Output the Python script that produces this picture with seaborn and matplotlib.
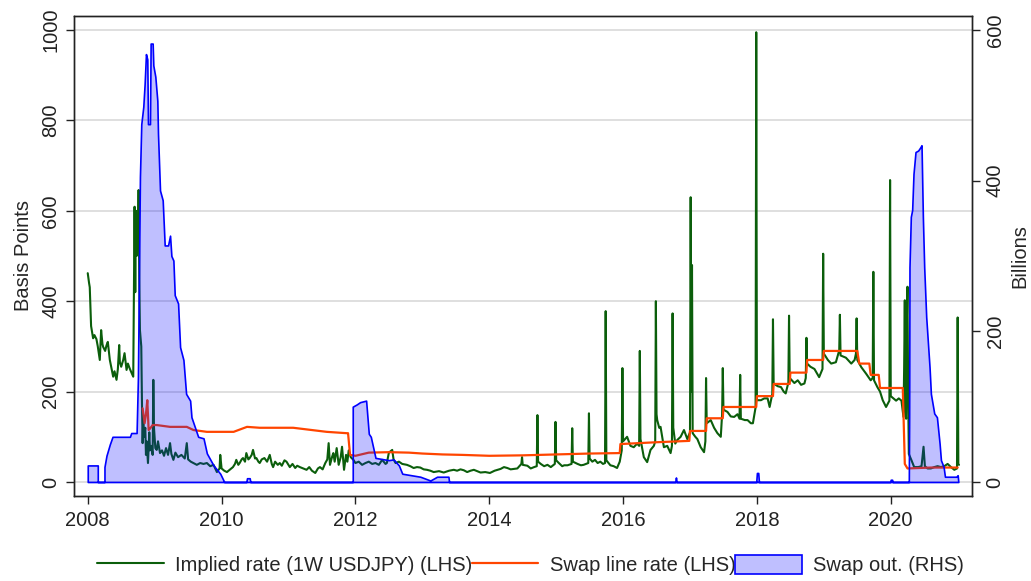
import matplotlib
matplotlib.use("Agg")
import matplotlib.pyplot as plt
import seaborn as sns

# ----------------------------------------------------------
# Data
# ----------------------------------------------------------

# implied rate, 1W USDJPY (basis points, left axis) - 2008 to mid 2009
impl_year_a = [
    2008.00, 2008.02, 2008.03, 2008.05, 2008.06, 2008.08, 2008.10, 2008.13, 2008.15, 2008.18,
    2008.20, 2008.22, 2008.23, 2008.26, 2008.28, 2008.30, 2008.33, 2008.35, 2008.38, 2008.40,
    2008.43, 2008.45, 2008.47, 2008.48, 2008.50, 2008.53, 2008.55, 2008.58, 2008.60, 2008.63,
    2008.66, 2008.68, 2008.70, 2008.71, 2008.72, 2008.73, 2008.74, 2008.75, 2008.76, 2008.77,
    2008.78, 2008.80, 2008.81, 2008.82, 2008.83, 2008.84, 2008.86, 2008.87, 2008.88, 2008.90,
    2008.92, 2008.93, 2008.95, 2008.97, 2008.98, 2008.99, 2009.01, 2009.03, 2009.05, 2009.08,
    2009.11, 2009.14, 2009.17, 2009.20, 2009.23, 2009.25, 2009.28, 2009.31, 2009.35, 2009.40,
    2009.45, 2009.48, 2009.50, 2009.54, 2009.58,
]
impl_bp_a = [
    462, 440, 431, 345, 336, 318, 325, 316, 300, 270,
    336, 305, 299, 290, 302, 310, 270, 255, 233, 245,
    226, 250, 303, 265, 255, 270, 285, 248, 262, 250,
    240, 233, 609, 420, 600, 500, 551, 520, 646, 450,
    336, 300, 180, 86, 143, 100, 120, 60, 90, 42,
    110, 70, 80, 60, 226, 120, 75, 71, 90, 64,
    70, 58, 75, 60, 86, 62, 49, 65, 55, 60,
    52, 86, 50, 45, 42,
]

# implied rate - mid 2009 to mid 2012
impl_year_b = [
    2009.63, 2009.68, 2009.73, 2009.78, 2009.83, 2009.88, 2009.93, 2009.97, 2009.98, 2010.00,
    2010.04, 2010.08, 2010.13, 2010.17, 2010.20, 2010.22, 2010.25, 2010.27, 2010.30, 2010.32,
    2010.35, 2010.37, 2010.40, 2010.42, 2010.45, 2010.47, 2010.50, 2010.52, 2010.55, 2010.57,
    2010.60, 2010.64, 2010.68, 2010.72, 2010.75, 2010.77, 2010.80, 2010.84, 2010.87, 2010.90,
    2010.94, 2010.97, 2011.00, 2011.02, 2011.06, 2011.10, 2011.13, 2011.17, 2011.22, 2011.27,
    2011.31, 2011.35, 2011.40, 2011.44, 2011.47, 2011.51, 2011.55, 2011.58, 2011.60, 2011.62,
    2011.65, 2011.67, 2011.69, 2011.72, 2011.75, 2011.78, 2011.80, 2011.83, 2011.86, 2011.88,
    2011.90, 2011.93, 2011.97, 2012.00, 2012.05, 2012.10, 2012.15, 2012.20, 2012.25, 2012.30,
    2012.35, 2012.40, 2012.45, 2012.47, 2012.50, 2012.55, 2012.57, 2012.60,
]
impl_bp_b = [
    38, 42, 40, 42, 35, 38, 22, 30, 60, 30,
    25, 22, 28, 33, 40, 49, 38, 42, 50, 53,
    45, 64, 50, 53, 60, 71, 52, 53, 45, 42,
    50, 53, 45, 60, 40, 33, 45, 38, 42, 36,
    48, 45, 38, 33, 40, 31, 36, 33, 30, 27,
    33, 25, 20, 30, 33, 28, 42, 50, 86, 38,
    55, 64, 45, 75, 38, 55, 78, 27, 60, 45,
    70, 55, 49, 42, 45, 38, 42, 45, 40, 42,
    38, 49, 40, 42, 65, 71, 50, 42,
]

# implied rate - mid 2012 to 2021
impl_year_c = [
    2012.65, 2012.70, 2012.77, 2012.82,
    2012.87, 2012.92, 2012.97, 2013.02, 2013.07, 2013.12, 2013.17, 2013.25, 2013.32, 2013.40,
    2013.47, 2013.52, 2013.57, 2013.62, 2013.67, 2013.72, 2013.77, 2013.82, 2013.87, 2013.94,
    2014.01, 2014.08, 2014.17, 2014.22, 2014.27, 2014.32, 2014.37, 2014.42, 2014.48, 2014.49,
    2014.50, 2014.57, 2014.62, 2014.67, 2014.71, 2014.72, 2014.73, 2014.77, 2014.82, 2014.87,
    2014.92, 2014.98, 2014.99, 2015.00, 2015.04, 2015.09, 2015.12, 2015.17, 2015.23, 2015.24,
    2015.25, 2015.32, 2015.37, 2015.41, 2015.48, 2015.49, 2015.50, 2015.54, 2015.58, 2015.62,
    2015.66, 2015.70, 2015.73, 2015.74, 2015.75, 2015.81, 2015.86, 2015.91, 2015.95, 2015.98,
    2015.99, 2016.00, 2016.06, 2016.11, 2016.16, 2016.21, 2016.24, 2016.25, 2016.26, 2016.31,
    2016.36, 2016.41, 2016.46, 2016.48, 2016.49, 2016.50, 2016.51, 2016.54, 2016.56, 2016.61,
    2016.66, 2016.71, 2016.73, 2016.74, 2016.75, 2016.78, 2016.81, 2016.86, 2016.91, 2016.96,
    2017.00, 2017.01, 2017.02, 2017.03, 2017.04, 2017.08, 2017.11, 2017.16, 2017.21, 2017.23,
    2017.24, 2017.25, 2017.31, 2017.36, 2017.41, 2017.46, 2017.48, 2017.49, 2017.50, 2017.56,
    2017.61, 2017.66, 2017.71, 2017.74, 2017.75, 2017.76, 2017.82, 2017.86, 2017.91, 2017.94,
    2017.98, 2017.99, 2018.00, 2018.06, 2018.11, 2018.16, 2018.19, 2018.23, 2018.24, 2018.25,
    2018.31, 2018.36, 2018.40, 2018.43, 2018.47, 2018.48, 2018.49, 2018.56, 2018.61, 2018.66,
    2018.71, 2018.73, 2018.74, 2018.75, 2018.80, 2018.86, 2018.93, 2018.98, 2018.99, 2019.00,
    2019.06, 2019.11, 2019.18, 2019.23, 2019.24, 2019.25, 2019.33, 2019.41, 2019.46, 2019.48,
    2019.49, 2019.50, 2019.56, 2019.63, 2019.70, 2019.73, 2019.74, 2019.75, 2019.80, 2019.84,
    2019.88, 2019.93, 2019.98, 2019.99, 2020.00, 2020.04, 2020.08, 2020.12, 2020.16, 2020.19,
    2020.20, 2020.21, 2020.22, 2020.23, 2020.24, 2020.25, 2020.26, 2020.27, 2020.31, 2020.35,
    2020.41, 2020.46, 2020.49, 2020.51, 2020.55, 2020.60, 2020.65, 2020.70, 2020.75, 2020.80,
    2020.85, 2020.90, 2020.95, 2020.99, 2021.00, 2021.01, 2021.02,
]
impl_bp_c = [
    45, 40, 38, 35,
    31, 33, 32, 28, 27, 25, 22, 24, 21, 25,
    27, 25, 28, 26, 22, 25, 27, 24, 21, 22,
    20, 25, 29, 33, 31, 28, 29, 30, 40, 55,
    38, 36, 30, 33, 35, 148, 45, 40, 35, 38,
    33, 40, 133, 48, 42, 35, 37, 37, 40, 119,
    45, 40, 37, 38, 42, 152, 52, 45, 49, 42,
    45, 40, 42, 378, 48, 37, 35, 31, 45, 70,
    252, 90, 100, 80, 77, 85, 80, 290, 95, 55,
    44, 71, 80, 90, 400, 150, 137, 120, 122, 77,
    80, 64, 80, 373, 120, 85, 93, 100, 115, 95,
    110, 630, 200, 480, 108, 100, 95, 77, 66, 90,
    230, 130, 137, 120, 108, 100, 150, 252, 160, 155,
    145, 144, 150, 140, 237, 140, 137, 137, 130, 130,
    165, 995, 181, 181, 185, 185, 166, 195, 360, 218,
    212, 210, 200, 196, 220, 368, 230, 219, 225, 215,
    218, 230, 319, 262, 255, 250, 232, 250, 505, 284,
    270, 262, 265, 291, 370, 280, 275, 262, 270, 284,
    362, 270, 254, 240, 225, 230, 465, 225, 210, 200,
    181, 166, 180, 668, 190, 185, 180, 185, 180, 144,
    250, 402, 160, 140, 350, 432, 200, 62, 48, 33,
    33, 35, 78, 35, 30, 30, 33, 35, 33, 35,
    40, 33, 27, 30, 364, 40, 38,
]

# swap line rate (basis points, left axis)
swap_year = [
    2008.82, 2008.85, 2008.87, 2008.89, 2008.91, 2008.93, 2008.97, 2009.03, 2009.23, 2009.48,
    2009.58, 2009.78, 2010.18, 2010.38, 2010.57, 2011.07, 2011.57, 2011.87, 2011.89, 2011.92,
    2012.00, 2012.20, 2012.50, 2012.80, 2013.00, 2013.30, 2013.60, 2014.00, 2014.50, 2015.00,
    2015.50, 2015.95, 2015.96, 2016.50, 2016.99, 2017.00, 2017.24, 2017.25, 2017.49, 2017.50,
    2017.99, 2018.00, 2018.24, 2018.25, 2018.49, 2018.50, 2018.74, 2018.75, 2018.99, 2019.00,
    2019.50, 2019.53, 2019.68, 2019.70, 2019.82, 2019.84, 2020.18, 2020.21, 2020.25, 2020.60,
    2021.00,
]
swap_bp = [
    163, 130, 150, 181, 115, 118, 126, 126, 122, 122,
    115, 111, 111, 122, 120, 120, 111, 108, 108, 60,
    58, 65, 66, 65, 63, 61, 60, 58, 59, 61,
    63, 64, 84, 88, 91, 113, 113, 141, 141, 166,
    166, 190, 190, 217, 217, 242, 242, 270, 270, 290,
    290, 262, 262, 237, 237, 208, 208, 40, 30, 32,
    32,
]

# swap outstanding (billions, right axis)
out_year = [
    2008.00, 2008.00, 2008.15, 2008.15, 2008.25, 2008.25, 2008.28, 2008.33, 2008.37, 2008.63,
    2008.65, 2008.73, 2008.75, 2008.78, 2008.80, 2008.83, 2008.85, 2008.87, 2008.89, 2008.90,
    2008.93, 2008.94, 2008.97, 2008.98, 2009.01, 2009.04, 2009.05, 2009.08, 2009.12, 2009.15,
    2009.20, 2009.23, 2009.25, 2009.28, 2009.30, 2009.35, 2009.38, 2009.43, 2009.47, 2009.53,
    2009.55, 2009.60, 2009.65, 2009.73, 2009.78, 2009.88, 2009.98, 2010.04, 2010.37, 2010.38,
    2010.42, 2010.43, 2011.96, 2011.96, 2012.02, 2012.07, 2012.16, 2012.20, 2012.23, 2012.30,
    2012.50, 2012.57, 2012.65, 2012.70, 2012.97, 2013.12, 2013.22, 2013.39, 2013.40, 2016.78,
    2016.79, 2016.80, 2017.99, 2018.00, 2018.02, 2018.03, 2019.99, 2020.00, 2020.02, 2020.03,
    2020.27, 2020.275, 2020.28, 2020.30, 2020.32, 2020.34, 2020.37, 2020.41, 2020.44, 2020.46,
    2020.48, 2020.50, 2020.53, 2020.58, 2020.60, 2020.65, 2020.69, 2020.73, 2020.75, 2020.79,
    2020.81, 2020.98, 2021.00, 2021.01,
]
out_bn = [
    0, 22, 22, 0, 0, 20, 35, 50, 60, 60,
    65, 65, 139, 405, 475, 498, 528, 568, 561, 475,
    475, 582, 582, 553, 538, 506, 462, 387, 374, 314,
    314, 327, 300, 294, 248, 237, 179, 162, 117, 108,
    86, 73, 60, 58, 38, 22, 11, 0, 0, 5,
    5, 0, 0, 100, 103, 106, 108, 64, 60, 32,
    29, 30, 22, 11, 7, 2, 7, 7, 0, 0,
    6, 0, 0, 12, 12, 0, 0, 3, 3, 0,
    0, 86, 285, 352, 361, 409, 438, 440, 444, 447,
    352, 285, 219, 152, 117, 91, 86, 51, 29, 20,
    7, 7, 9, 0,
]

x_ticks = [2008, 2010, 2012, 2014, 2016, 2018, 2020]
left_ticks = [0, 200, 400, 600, 800, 1000]
right_ticks = [0, 200, 400, 600]
labels = ["Implied rate (1W USDJPY) (LHS)", "Swap line rate (LHS)", "Swap out. (RHS)"]

impl_year = impl_year_a + impl_year_b + impl_year_c
impl_bp = impl_bp_a + impl_bp_b + impl_bp_c
assert len(impl_year) == len(impl_bp)
assert len(swap_year) == len(swap_bp)
assert len(out_year) == len(out_bn)

# ----------------------------------------------------------
# Style
# ----------------------------------------------------------

sns.set_theme(style="white")
plt.rcParams["font.family"] = ["Liberation Sans", "DejaVu Sans"]
plt.rcParams["font.size"] = 14.5

GREEN = "#0b5e0b"
ORANGE = "#ff4500"
BLUE = "#0000ff"

fig = plt.figure(figsize=(10.31, 5.81), dpi=100)
ax1 = fig.add_axes([0.0718, 0.1468, 0.8707, 0.8257])
ax2 = ax1.twinx()

ax1.yaxis.grid(True, color="#dcdcdc", lw=1.3)
ax1.set_axisbelow(True)

# ----------------------------------------------------------
# Lines (left axis)
# ----------------------------------------------------------

sns.lineplot(x=impl_year, y=impl_bp, ax=ax1, color=GREEN, lw=1.5,
             estimator=None, sort=False)
sns.lineplot(x=swap_year, y=swap_bp, ax=ax1, color=ORANGE, lw=1.6,
             estimator=None, sort=False)

# ----------------------------------------------------------
# Area (right axis)
# ----------------------------------------------------------

area = ax2.fill_between(out_year, out_bn, 0, facecolor=(0, 0, 1, 0.25),
                        edgecolor=BLUE, lw=1.2)

# ----------------------------------------------------------
# Axes
# ----------------------------------------------------------

ax1.set_xlim(2007.795, 2021.21)
ax1.set_xticks(x_ticks)
ax1.set_xticklabels([str(t) for t in x_ticks])
ax1.set_ylim(-30.3, 1031)
ax1.set_yticks(left_ticks)
ax2.set_ylim(-18.2, 618.6)
ax2.set_yticks(right_ticks)

ax1.tick_params(axis="x", bottom=True, length=6, width=1, pad=5,
                labelsize=14.5, colors="#222222")
ax1.tick_params(axis="y", left=True, length=6, width=1, pad=4,
                labelsize=14.5, labelrotation=90, colors="#222222")
ax2.tick_params(axis="y", right=True, length=6, width=1, pad=4,
                labelsize=14.5, labelrotation=90, colors="#222222")
for lbl in ax1.get_yticklabels() + ax2.get_yticklabels():
    lbl.set_va("center")

ax1.set_xlabel("")
ax1.set_ylabel("Basis Points", fontsize=14.5, labelpad=6)
ax2.set_ylabel("Billions", fontsize=14.5, labelpad=4)

for ax in (ax1, ax2):
    for sp in ax.spines.values():
        sp.set_color("#222222")
        sp.set_linewidth(1.0)

# ----------------------------------------------------------
# Legend
# ----------------------------------------------------------

handles = [ax1.lines[0], ax1.lines[1], area]
fig.legend(handles, labels, loc="center", bbox_to_anchor=(0.5145, 0.0275),
           ncol=3, frameon=False, handlelength=3.3, handletextpad=0.55,
           columnspacing=0.0, handleheight=1.05, fontsize=14.5,
           borderaxespad=0)

fig.savefig("out.png", dpi=100)
